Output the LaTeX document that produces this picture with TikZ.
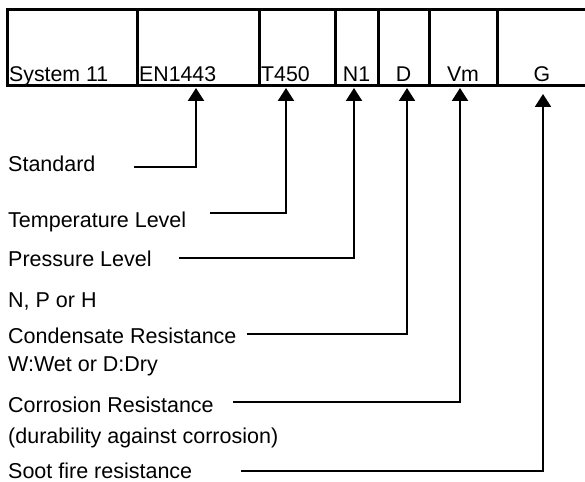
\documentclass[tikz,border=0pt]{standalone}
\usepackage{fontspec}
\setmainfont{Liberation Sans}
\usetikzlibrary{arrows.meta}

\begin{document}
\begin{tikzpicture}[x=1pt, y=-1pt,
    gridline/.style={line width=3pt},
    leader/.style={line width=2.3pt, -{Triangle[length=13pt, width=16pt]}},
    lbl/.style={anchor=base west, inner sep=0pt, font=\fontsize{21.5}{24}\selectfont},
    code/.style={anchor=base, inner sep=0pt, font=\fontsize{21.3}{24}\selectfont},
    codel/.style={code, anchor=base west}
  ]
  \useasboundingbox (0,0) rectangle (585,481);

  % code table
  \draw[gridline] (590,10) -- (7,10) -- (7,86) -- (590,86);
  \foreach \x in {137,259,335,378,429,497}
    \draw[gridline] (\x,10) -- (\x,86);

  \node[codel] (sys)  at (9,82)     {System 11};
  \node[codel] (std)  at (139,82)   {EN1443};
  \node[codel] (temp) at (261,82)   {T450};
  \node[code]  (pres) at (356.5,82) {N1};
  \node[code]  (cond) at (403.5,82) {D};
  \node[code]  (corr) at (463,82)   {Vm};
  \node[code]  (soot) at (542,82)   {G};

  % descriptions
  \node[lbl] (lstd)  at (8,171) {Standard};
  \node[lbl] (ltemp) at (8,227) {Temperature Level};
  \node[lbl] (lpres) at (8,266) {Pressure Level};
  \node[lbl] (lnph)  at (8,307) {N, P or H};
  \node[lbl] (lcond) at (8,343) {Condensate Resistance};
  \node[lbl] (lwet)  at (8,371) {W:Wet or D:Dry};
  \node[lbl] (lcorr) at (8,412) {Corrosion Resistance};
  \node[lbl] (ldur)  at (8,443) {(durability against corrosion)};
  \node[lbl, text depth=0pt] (lsoot) at (8,478) {Soot fire resistance};

  % leader lines
  \coordinate (s1) at (134,167); \coordinate (a1) at (196,88);
  \coordinate (s2) at (210,213); \coordinate (a2) at (286,88);
  \coordinate (s3) at (179,258); \coordinate (a3) at (354,88);
  \coordinate (s4) at (247,334); \coordinate (a4) at (407,88);
  \coordinate (s5) at (233,402); \coordinate (a5) at (460,88);
  \coordinate (s6) at (241,471); \coordinate (a6) at (543,94);

  \draw[leader] (s1) -| (a1);
  \draw[leader] (s2) -| (a2);
  \draw[leader] (s3) -| (a3);
  \draw[leader] (s4) -| (a4);
  \draw[leader] (s5) -| (a5);
  \draw[leader] (s6) -| (a6);
\end{tikzpicture}
\end{document}
